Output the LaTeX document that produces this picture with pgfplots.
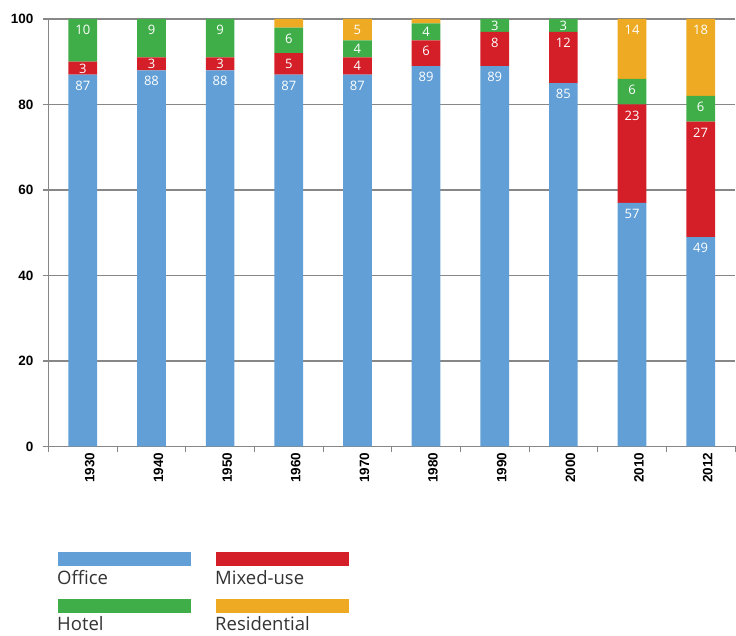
\documentclass[border=0pt]{standalone}
\usepackage{fontspec}
\setmainfont{Open Sans}
\newfontfamily\arialfont{Liberation Sans}
\usepackage{pgfplots}
\usepackage{pgfplotstable}
\pgfplotsset{compat=1.18}

\definecolor{officeblue}{HTML}{619FD6}
\definecolor{mixedred}{HTML}{D51F28}
\definecolor{hotelgreen}{HTML}{3FAE49}
\definecolor{residorange}{HTML}{EEAA22}
\definecolor{gridgray}{HTML}{878787}
\definecolor{legtext}{HTML}{333333}

% share of building use per decade (percent)
\pgfplotstableread{
x office mixed hotel resid
0 87 3 10 0
1 88 3 9 0
2 88 3 9 0
3 87 5 6 2
4 87 4 4 5
5 89 6 4 1
6 89 8 3 0
7 85 12 3 0
8 57 23 6 14
9 49 27 6 18
}\usetable

% node sits at the segment's middle; lift the text to just below the segment top
% (centred when the segment is thin); 4.275pt per percent
\newcommand\seglabel{%
  \pgfmathtruncatemacro\showit{\pgfplotspointmeta>2.5}%
  \ifnum\showit=1
    \pgfmathsetlengthmacro\lift{\pgfplotspointmeta*4.275/2-min(6,(\pgfplotspointmeta*4.275-9.3)/2)}%
    \raisebox{\lift}[\height][\depth]{\pgfplotspointmeta}%
  \fi}

\begin{document}
\begin{tikzpicture}
\path[use as bounding box] (0pt,0pt) rectangle (736pt,636pt);
\begin{axis}[
    at={(48.5pt,189.5pt)}, anchor=south west,
    scale only axis, width=686.5pt, height=427.5pt,
    ybar stacked, bar width=28.7pt,
    xmin=-0.5, xmax=9.5, ymin=0, ymax=100,
    axis x line*=bottom, axis y line*=left,
    axis line style={gridgray, line width=1.3pt},
    ymajorgrids, grid style={gridgray, line width=1.3pt},
    ytick={0,20,...,100},
    xtick={0,...,9},
    xticklabels={1930,1940,1950,1960,1970,1980,1990,2000,2010,2012},
    minor xtick={-0.5,0.5,...,9.5},
    tick align=outside, major tick length=6pt, minor tick length=6pt,
    major x tick style={draw=none},
    minor x tick style={draw=gridgray, line width=1pt},
    major y tick style={draw=gridgray, line width=1.3pt},
    /pgf/number format/assume math mode=true,
    ticklabel style={font=\arialfont\bfseries\fontsize{13.5}{15}\selectfont, text=black},
    yticklabel style={inner sep=0pt, xshift=-9pt},
    xticklabel style={rotate=90, anchor=east, inner sep=0pt, yshift=-7pt},
    point meta=explicit symbolic,
    nodes near coords={\seglabel},
    every node near coord/.style={anchor=north, inner sep=0pt, text=white,
        font=\fontsize{13}{14}\selectfont},
]
\addplot[fill=officeblue, draw=none] table[x=x, y=office, meta=office] {\usetable};
\addplot[fill=mixedred, draw=none] table[x=x, y=mixed, meta=mixed] {\usetable};
\addplot[fill=hotelgreen, draw=none] table[x=x, y=hotel, meta=hotel] {\usetable};
\addplot[fill=residorange, draw=none] table[x=x, y=resid, meta=resid] {\usetable};
\end{axis}

% legend
\tikzset{legtxt/.style={anchor=base west, inner sep=0pt, text=legtext,
    font=\fontsize{18.5}{20}\selectfont}}
\fill[officeblue] (58pt,70.3pt) rectangle (190.7pt,84pt);
\node[legtxt] at (57pt,51pt) {Office};
\fill[mixedred] (216pt,70.3pt) rectangle (349pt,84pt);
\node[legtxt] at (215pt,51pt) {Mixed-use};
\fill[hotelgreen] (58pt,23.3pt) rectangle (190.7pt,37pt);
\node[legtxt] at (57pt,5.5pt) {Hotel};
\fill[residorange] (216pt,23.3pt) rectangle (349pt,37pt);
\node[legtxt] at (215pt,5.5pt) {Residential};
\end{tikzpicture}
\end{document}
